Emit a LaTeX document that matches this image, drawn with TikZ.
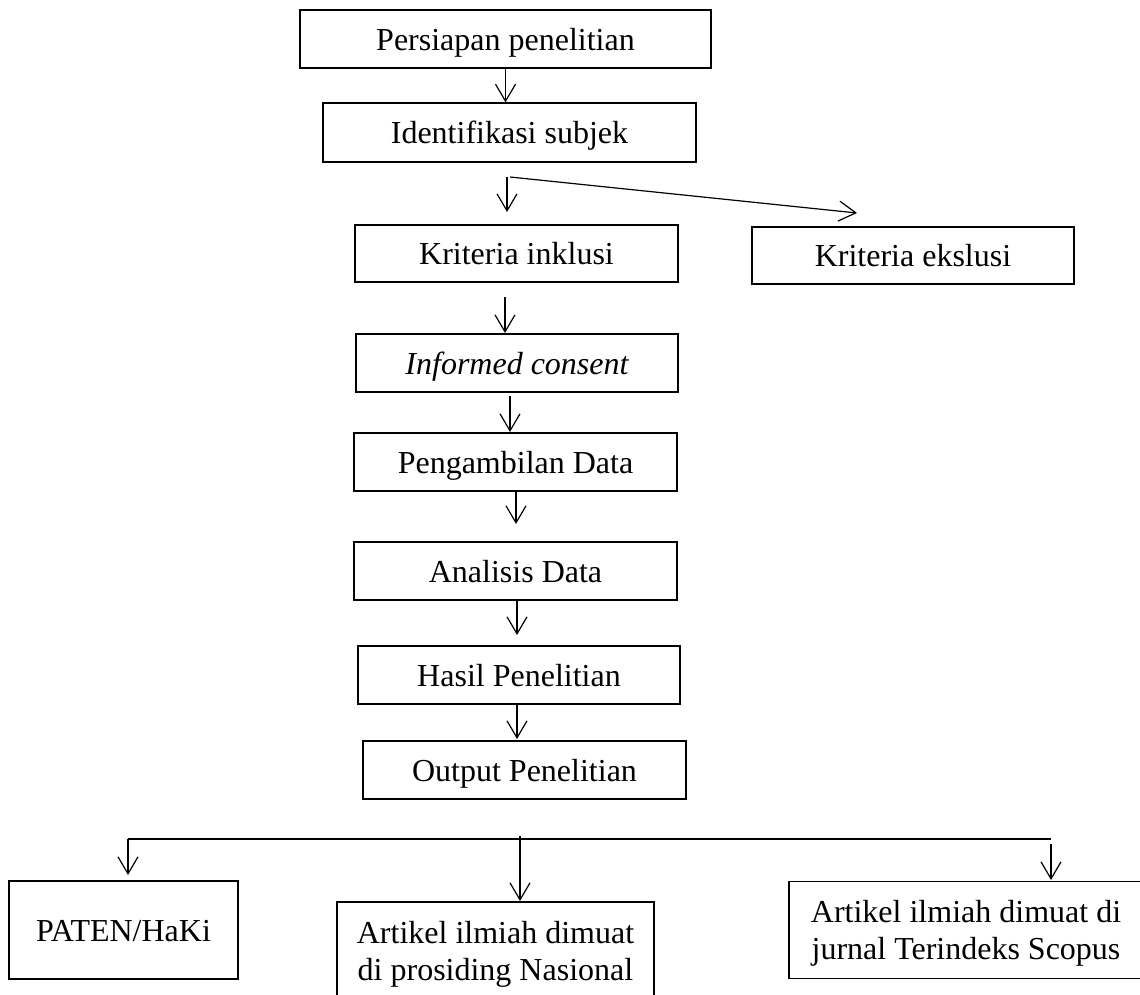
\documentclass[tikz,border=0pt]{standalone}
\usepackage{fontspec}
\setmainfont{Liberation Serif}
\usetikzlibrary{arrows.meta}
\begin{document}
\begin{tikzpicture}[x=1pt,y=-1pt,
  every node/.style={font=\fontsize{32}{37}\selectfont},
  boxnode/.style={draw, line width=1.3pt, inner sep=0pt, text height=22pt, text depth=0pt},
  twoline/.style={draw, line width=1.3pt, inner sep=0pt, text height=22pt, text depth=37pt},
  conn/.style={line width=1.2pt, -{Straight Barb[length=17pt,width=20pt,line width=1.2pt]}},
  plainline/.style={line width=1.2pt}]
\useasboundingbox (0,0) rectangle (1140,994);
% boxes
\node[boxnode, minimum width=411pt, minimum height=58pt] (persiapan) at (505.5,39) {Persiapan penelitian};
\node[boxnode, minimum width=373pt, minimum height=59pt] (identifikasi) at (509.5,132.5) {Identifikasi subjek};
\node[boxnode, minimum width=323pt, minimum height=57pt] (inklusi) at (516.5,253.5) {Kriteria inklusi};
\node[boxnode, minimum width=322pt, minimum height=57pt] (ekslusi) at (913,255.5) {Kriteria ekslusi};
\node[boxnode, minimum width=322pt, minimum height=58pt] (informed) at (517,363) {\itshape Informed consent};
\node[boxnode, minimum width=323pt, minimum height=58pt] (pengambilan) at (515.5,462) {Pengambilan Data};
\node[boxnode, minimum width=323pt, minimum height=58pt] (analisis) at (515.5,571) {Analisis Data};
\node[boxnode, minimum width=322pt, minimum height=58pt] (hasil) at (519,675) {Hasil Penelitian};
\node[boxnode, minimum width=323pt, minimum height=58pt] (output) at (524.5,770) {Output Penelitian};
\node[boxnode, minimum width=229pt, minimum height=98pt] (paten) at (123.5,930) {PATEN/HaKi};
\node[twoline, minimum width=317pt, minimum height=97pt] (prosiding) at (495.5,950.5)
  {\begin{tabular}[t]{@{}c@{}}Artikel ilmiah dimuat\\di prosiding Nasional\end{tabular}};
\node[twoline, minimum width=354pt, minimum height=97pt] (scopus) at (966,930)
  {\begin{tabular}[t]{@{}c@{}}Artikel ilmiah dimuat di\\jurnal Terindeks Scopus\end{tabular}};
% free connector ends
\coordinate (forkA) at (507,177);
\coordinate (forkB) at (510,177);
\coordinate (tipInk) at (507,212);
\coordinate (tipEks) at (857,213);
\coordinate (sInf) at (505,297);
\coordinate (tipInf) at (505,333);
\coordinate (sPeng) at (510,396);
\coordinate (tipPeng) at (510,432);
\coordinate (tipAna) at (516,524);
\coordinate (tipHas) at (517,635);
\coordinate (tipOut) at (517,739);
\coordinate (barL) at (128,839);
\coordinate (barR) at (1051,839);
\coordinate (tipPat) at (128,875);
\coordinate (sMid) at (520,836);
\coordinate (tipMid) at (520,901);
\coordinate (sRight) at (1051,844);
\coordinate (tipRight) at (1051,880);
% connectors
\draw[conn] (persiapan.south) -- (persiapan.south |- identifikasi.north);
\draw[conn] (forkA) -- (tipInk);
\draw[conn] (forkB) -- (tipEks);
\draw[conn] (sInf) -- (tipInf);
\draw[conn] (sPeng) -- (tipPeng);
\draw[conn] (pengambilan.south -| tipAna) -- (tipAna);
\draw[conn] (analisis.south -| tipHas) -- (tipHas);
\draw[conn] (hasil.south -| tipOut) -- (tipOut);
\draw[plainline] (barL) -- (barR);
\draw[conn] (barL) -- (tipPat);
\draw[conn] (sMid) -- (tipMid);
\draw[conn] (sRight) -- (tipRight);
\end{tikzpicture}
\end{document}
